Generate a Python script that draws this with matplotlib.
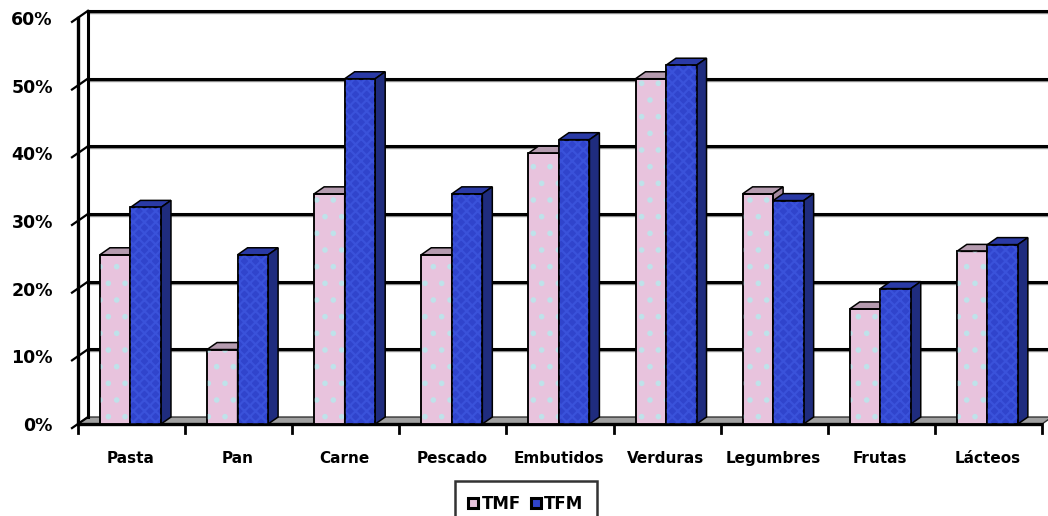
import matplotlib
matplotlib.use('Agg')
import matplotlib.pyplot as plt
from matplotlib.patches import Polygon, Patch

plt.rcParams['font.family'] = ['DejaVu Sans']
plt.rcParams['hatch.linewidth'] = 1.6

categories = ['Pasta', 'Pan', 'Carne', 'Pescado', 'Embutidos', 'Verduras', 'Legumbres', 'Frutas', 'Lácteos']
tmf = [25, 11, 34, 25, 40, 51, 34, 17, 25.5]
tfm = [32, 25, 51, 34, 42, 53, 33, 20, 26.5]
yticks = [0, 10, 20, 30, 40, 50, 60]
series_names = ['TMF', 'TFM']

# colours: front, top, side
pink = ('#E8C3DD', '#B59BAF', '#A58AA0')
blue = ('#3044CC', '#2A3AA6', '#1F2C7E')

fig = plt.figure(figsize=(10.48, 5.16), dpi=100)
ax = fig.add_axes([78 / 1048, 92 / 516, 964 / 1048, 62 * 6.77 / 516])
ax.set_xlim(0, 9)
ax.set_ylim(0, 62)
ax.axis('off')

# depth offset of the "3d" look (data units)
dx, dy = 0.093, 1.03
n = len(categories)
w = 0.285

# floor
ax.add_patch(Polygon([(0, 0), (n, 0), (n + dx, dy), (dx, dy)], closed=True,
                     facecolor='#A0A0A0', edgecolor='#333333', lw=1, zorder=1, clip_on=False))
ax.plot([0, n], [0, 0], color='black', lw=2.4, zorder=2, clip_on=False, solid_capstyle='butt')

# back wall grid
for v in yticks[1:]:
    ax.plot([dx, n + dx + 0.1], [v + dy - 0.3, v + dy - 0.3], color='#909090', lw=1.0, zorder=1, clip_on=False)
    ax.plot([dx, n + dx + 0.1], [v + dy, v + dy], color='black', lw=2.2, zorder=1.5, clip_on=False)
ax.plot([dx, dx], [dy, yticks[-1] + dy], color='black', lw=2.2, zorder=1.5, clip_on=False)

# front vertical axis + diagonal ticks + labels
ax.plot([0, 0], [0, yticks[-1]], color='black', lw=2.4, zorder=2, clip_on=False)
for v in yticks:
    ax.plot([-0.056, dx], [v - 0.6, v + dy], color='black', lw=1.6, zorder=2, clip_on=False)
    ax.text(-0.235, v - 0.3, f'{v}%', ha='right', va='center', fontsize=12.5,
            fontweight='bold', color='black')

# x ticks and category labels
for i in range(n + 1):
    ax.plot([i, i], [0, -1.3], color='black', lw=2, zorder=2, clip_on=False)
for i, cat in enumerate(categories):
    ax.text(i + 0.49, -5.1, cat, ha='center', va='center', fontsize=11,
            fontweight='bold', color='black')


def draw_bars(xs, vals, cols, z, hatch, hatch_col):
    bars = ax.bar(xs, vals, width=w, align='edge', color=cols[0], edgecolor='black',
                  lw=1.1, zorder=z, clip_on=False)
    ax.bar(xs, vals, width=w, align='edge', fill=False, hatch=hatch, edgecolor=hatch_col,
           lw=0, zorder=z + 0.05, clip_on=False)
    ax.bar(xs, vals, width=w, align='edge', fill=False, edgecolor='black',
           lw=1.1, zorder=z + 0.1, clip_on=False)
    for b in bars:
        x0 = b.get_x()
        x1 = x0 + b.get_width()
        h = b.get_height()
        ax.add_patch(Polygon([(x0, h), (x1, h), (x1 + dx, h + dy), (x0 + dx, h + dy)], closed=True,
                             facecolor=cols[1], edgecolor='black', lw=1.1, zorder=z, clip_on=False))
        ax.add_patch(Polygon([(x1, 0), (x1 + dx, dy), (x1 + dx, h + dy), (x1, h)], closed=True,
                             facecolor=cols[2], edgecolor='black', lw=1.1, zorder=z, clip_on=False))


centers = [i + 0.49 for i in range(n)]
draw_bars([c - w for c in centers], tmf, pink, 3, '.', '#BFE2EA')
draw_bars(centers, tfm, blue, 4, 'xxx', '#3A52DA')

handles = [Patch(facecolor=pink[0], edgecolor='black', lw=2.2, label=series_names[0]),
           Patch(facecolor=blue[0], edgecolor='black', lw=2.2, label=series_names[1])]
leg = fig.legend(handles=handles, loc='upper center', bbox_to_anchor=(526 / 1048, 1 - 473 / 516),
                 ncol=2, frameon=True, fancybox=False, handlelength=0.6,
                 handleheight=0.6, handletextpad=0.2, columnspacing=0.6, borderpad=0.8,
                 prop={'weight': 'bold', 'size': 12})
leg.get_frame().set_edgecolor('black')
leg.get_frame().set_linewidth(1.8)

fig.savefig('out.png', dpi=100)
